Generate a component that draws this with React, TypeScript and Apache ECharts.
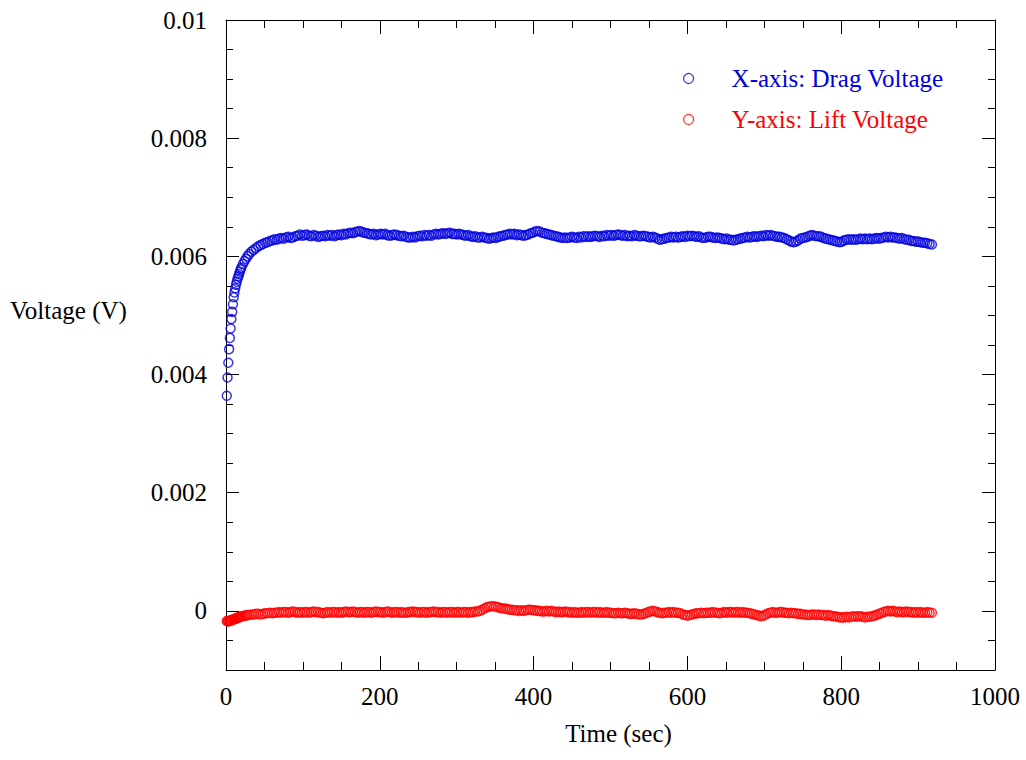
import React, { useEffect, useRef } from "react";
import * as echarts from "echarts";

// time in seconds: 1 s steps at the start, then 2 s, then 3 s
const times: number[] = [
  1, 2, 3, 4, 5, 6, 7, 8, 9, 10, 11, 12, 13, 14, 15, 16, 17, 18, 19, 20,
  22, 24, 26, 28,
  30, 33, 36, 39, 42, 45, 48, 51, 54, 57,
  60, 63, 66, 69, 72, 75, 78, 81, 84, 87,
  90, 93, 96, 99, 102, 105, 108, 111, 114, 117,
  120, 123, 126, 129, 132, 135, 138, 141, 144, 147,
  150, 153, 156, 159, 162, 165, 168, 171, 174, 177,
  180, 183, 186, 189, 192, 195, 198, 201, 204, 207,
  210, 213, 216, 219, 222, 225, 228, 231, 234, 237,
  240, 243, 246, 249, 252, 255, 258, 261, 264, 267,
  270, 273, 276, 279, 282, 285, 288, 291, 294, 297,
  300, 303, 306, 309, 312, 315, 318, 321, 324, 327,
  330, 333, 336, 339, 342, 345, 348, 351, 354, 357,
  360, 363, 366, 369, 372, 375, 378, 381, 384, 387,
  390, 393, 396, 399, 402, 405, 408, 411, 414, 417,
  420, 423, 426, 429, 432, 435, 438, 441, 444, 447,
  450, 453, 456, 459, 462, 465, 468, 471, 474, 477,
  480, 483, 486, 489, 492, 495, 498, 501, 504, 507,
  510, 513, 516, 519, 522, 525, 528, 531, 534, 537,
  540, 543, 546, 549, 552, 555, 558, 561, 564, 567,
  570, 573, 576, 579, 582, 585, 588, 591, 594, 597,
  600, 603, 606, 609, 612, 615, 618, 621, 624, 627,
  630, 633, 636, 639, 642, 645, 648, 651, 654, 657,
  660, 663, 666, 669, 672, 675, 678, 681, 684, 687,
  690, 693, 696, 699, 702, 705, 708, 711, 714, 717,
  720, 723, 726, 729, 732, 735, 738, 741, 744, 747,
  750, 753, 756, 759, 762, 765, 768, 771, 774, 777,
  780, 783, 786, 789, 792, 795, 798, 801, 804, 807,
  810, 813, 816, 819, 822, 825, 828, 831, 834, 837,
  840, 843, 846, 849, 852, 855, 858, 861, 864, 867,
  870, 873, 876, 879, 882, 885, 888, 891, 894, 897,
  900, 903, 906, 909, 912, 915, 918,
];

// X-axis: Drag Voltage, in millivolts
const dragMv: number[] = [
  3.64, 3.95, 4.20, 4.43, 4.62, 4.78, 4.94, 5.06, 5.19, 5.31, 5.39, 5.46, 5.52, 5.57, 5.62, 5.66, 5.70, 5.74, 5.78, 5.81,
  5.87, 5.92, 5.96, 6.00,
  6.04, 6.08, 6.11, 6.14, 6.17, 6.19, 6.21, 6.23, 6.24, 6.26,
  6.27, 6.29, 6.28, 6.30, 6.31, 6.30, 6.32, 6.33, 6.31, 6.32,
  6.34, 6.35, 6.37, 6.35, 6.36, 6.37, 6.35, 6.34, 6.36, 6.35,
  6.33, 6.34, 6.35, 6.34, 6.36, 6.35, 6.36, 6.34, 6.36, 6.37,
  6.36, 6.38, 6.37, 6.39, 6.40, 6.39, 6.41, 6.42, 6.43, 6.41,
  6.40, 6.39, 6.38, 6.37, 6.38, 6.36, 6.37, 6.38, 6.37, 6.38,
  6.36, 6.35, 6.36, 6.37, 6.36, 6.35, 6.34, 6.35, 6.33, 6.32,
  6.32, 6.33, 6.32, 6.34, 6.35, 6.34, 6.36, 6.35, 6.36, 6.35,
  6.37, 6.38, 6.37, 6.38, 6.39, 6.38, 6.39, 6.40, 6.38, 6.38,
  6.37, 6.38, 6.37, 6.36, 6.35, 6.36, 6.34, 6.33, 6.34, 6.32,
  6.32, 6.33, 6.32, 6.31, 6.30, 6.31, 6.32, 6.31, 6.33, 6.34,
  6.35, 6.36, 6.37, 6.38, 6.37, 6.38, 6.36, 6.37, 6.36, 6.35,
  6.36, 6.37, 6.39, 6.40, 6.42, 6.43, 6.42, 6.40, 6.39, 6.38,
  6.37, 6.36, 6.35, 6.34, 6.33, 6.32, 6.31, 6.32, 6.31, 6.32,
  6.33, 6.32, 6.31, 6.33, 6.32, 6.34, 6.33, 6.34, 6.33, 6.34,
  6.35, 6.34, 6.33, 6.35, 6.34, 6.36, 6.35, 6.36, 6.35, 6.36,
  6.37, 6.36, 6.35, 6.36, 6.34, 6.35, 6.34, 6.36, 6.35, 6.34,
  6.34, 6.35, 6.34, 6.33, 6.32, 6.33, 6.32, 6.30, 6.28, 6.29,
  6.30, 6.31, 6.32, 6.33, 6.32, 6.33, 6.32, 6.33, 6.34, 6.33,
  6.35, 6.34, 6.35, 6.34, 6.33, 6.34, 6.32, 6.31, 6.32, 6.33,
  6.33, 6.32, 6.31, 6.32, 6.31, 6.30, 6.29, 6.30, 6.28, 6.28,
  6.27, 6.28, 6.29, 6.30, 6.31, 6.32, 6.33, 6.32, 6.33, 6.34,
  6.33, 6.34, 6.35, 6.34, 6.36, 6.35, 6.36, 6.35, 6.34, 6.33,
  6.33, 6.32, 6.31, 6.29, 6.27, 6.25, 6.24, 6.25, 6.27, 6.30,
  6.31, 6.32, 6.33, 6.35, 6.36, 6.35, 6.34, 6.34, 6.33, 6.31,
  6.30, 6.29, 6.28, 6.27, 6.26, 6.25, 6.24, 6.25, 6.27, 6.28,
  6.29, 6.28, 6.29, 6.28, 6.29, 6.30, 6.29, 6.30, 6.29, 6.30,
  6.29, 6.30, 6.31, 6.30, 6.31, 6.32, 6.33, 6.32, 6.33, 6.32,
  6.32, 6.31, 6.30, 6.31, 6.29, 6.28, 6.28, 6.26, 6.26, 6.25,
  6.25, 6.24, 6.23, 6.23, 6.22, 6.21, 6.20,
];

// Y-axis: Lift Voltage, in millivolts
const liftMv: number[] = [
  -0.17, -0.17, -0.18, -0.17, -0.17, -0.16, -0.16, -0.15, -0.15, -0.14, -0.14, -0.13, -0.13, -0.12, -0.12, -0.11, -0.11, -0.10, -0.10, -0.09,
  -0.09, -0.08, -0.08, -0.07,
  -0.07, -0.06, -0.06, -0.05, -0.05, -0.06, -0.05, -0.04, -0.04, -0.03,
  -0.04, -0.03, -0.03, -0.02, -0.03, -0.02, -0.02, -0.03, -0.02, -0.01,
  -0.02, -0.03, -0.02, -0.03, -0.02, -0.02, -0.03, -0.02, -0.01, -0.02,
  -0.02, -0.03, -0.04, -0.03, -0.02, -0.03, -0.02, -0.02, -0.03, -0.02,
  -0.03, -0.02, -0.01, -0.02, -0.02, -0.01, -0.02, -0.03, -0.02, -0.02,
  -0.03, -0.02, -0.02, -0.03, -0.02, -0.01, -0.02, -0.02, -0.03, -0.02,
  -0.01, -0.02, -0.03, -0.02, -0.02, -0.03, -0.02, -0.03, -0.03, -0.02,
  -0.02, -0.01, -0.02, -0.02, -0.03, -0.02, -0.02, -0.03, -0.02, -0.02,
  -0.01, -0.02, -0.02, -0.03, -0.02, -0.02, -0.03, -0.02, -0.02, -0.03,
  -0.02, -0.02, -0.03, -0.02, -0.02, -0.03, -0.02, -0.02, -0.01, -0.01,
  0.00, 0.02, 0.04, 0.06, 0.07, 0.08, 0.08, 0.07, 0.06, 0.05,
  0.04, 0.04, 0.03, 0.02, 0.02, 0.01, 0.01, 0.00, 0.01, 0.00,
  0.01, 0.02, 0.02, 0.01, 0.01, 0.00, 0.00, -0.01, -0.01, 0.00,
  -0.01, 0.00, -0.01, -0.02, -0.01, -0.02, -0.02, -0.01, -0.02, -0.02,
  -0.03, -0.02, -0.03, -0.03, -0.02, -0.03, -0.02, -0.02, -0.03, -0.02,
  -0.02, -0.03, -0.02, -0.03, -0.03, -0.02, -0.03, -0.03, -0.04, -0.04,
  -0.03, -0.04, -0.04, -0.03, -0.04, -0.05, -0.05, -0.04, -0.05, -0.06,
  -0.06, -0.05, -0.04, -0.02, -0.01, 0.00, -0.01, -0.02, -0.03, -0.04,
  -0.03, -0.03, -0.02, -0.03, -0.02, -0.03, -0.03, -0.04, -0.06, -0.07,
  -0.08, -0.07, -0.06, -0.05, -0.04, -0.04, -0.03, -0.04, -0.03, -0.03,
  -0.03, -0.02, -0.03, -0.03, -0.04, -0.03, -0.02, -0.03, -0.02, -0.02,
  -0.03, -0.02, -0.02, -0.03, -0.02, -0.03, -0.03, -0.04, -0.05, -0.06,
  -0.07, -0.08, -0.09, -0.08, -0.06, -0.04, -0.03, -0.02, -0.03, -0.03,
  -0.02, -0.02, -0.03, -0.03, -0.04, -0.03, -0.04, -0.04, -0.05, -0.05,
  -0.06, -0.06, -0.07, -0.07, -0.06, -0.06, -0.07, -0.06, -0.07, -0.07,
  -0.08, -0.07, -0.08, -0.09, -0.09, -0.10, -0.11, -0.11, -0.11, -0.10,
  -0.11, -0.10, -0.09, -0.10, -0.09, -0.09, -0.10, -0.11, -0.10, -0.10,
  -0.09, -0.08, -0.07, -0.05, -0.04, -0.02, -0.01, 0.00, -0.01, 0.00,
  -0.01, -0.02, -0.01, -0.02, -0.02, -0.01, -0.02, -0.02, -0.03, -0.02,
  -0.03, -0.02, -0.03, -0.03, -0.02, -0.03, -0.03,
];

const yLabelValues: number[] = [0, 0.002, 0.004, 0.006, 0.008, 0.01];
const seriesNames: string[] = ["X-axis: Drag Voltage", "Y-axis: Lift Voltage"];

const BLUE = "#0000dd";
const RED = "#ff0000";
const FONT = "'Liberation Serif', 'Times New Roman', serif";
const FS = 25;

export default function App() {
  const ref = useRef<HTMLDivElement>(null);

  useEffect(() => {
    if (!ref.current) return;
    const chart = echarts.init(ref.current, null, { renderer: "svg" });

    const dragData = times.map((t, i) => [t, dragMv[i] / 1000]);
    const liftData = times.map((t, i) => [t, liftMv[i] / 1000]);

    const yBase = { type: "value", min: -0.001, max: 0.01, splitLine: { show: false } };
    const majorY = (position: string, labels: boolean) => ({
      ...yBase,
      position,
      axisLine: { show: true, onZero: false, lineStyle: { color: "#000", width: 1 } },
      axisTick: { show: true, inside: true, length: 13, customValues: yLabelValues, lineStyle: { color: "#000" } },
      axisLabel: {
        show: labels,
        customValues: yLabelValues,
        margin: 19,
        color: "#000",
        fontFamily: FONT,
        fontSize: FS,
        formatter: (v: number) => String(parseFloat(v.toFixed(4))),
      },
    });
    const minorY = (position: string) => ({
      ...yBase,
      position,
      interval: 0.0005,
      axisLine: { show: false, onZero: false },
      axisTick: { show: true, inside: true, length: 7, lineStyle: { color: "#000" } },
      axisLabel: { show: false },
    });
    const xAx = (position: string, labels: boolean) => ({
      type: "value",
      position,
      min: 0,
      max: 1000,
      interval: 200,
      splitLine: { show: false },
      axisLine: { show: true, onZero: false, lineStyle: { color: "#000", width: 1 } },
      axisTick: { show: true, inside: true, length: 14, lineStyle: { color: "#000" } },
      minorTick: { show: true, splitNumber: 4, length: 8, lineStyle: { color: "#000" } },
      minorSplitLine: { show: false },
      axisLabel: {
        show: labels,
        margin: 14,
        color: "#000",
        fontFamily: FONT,
        fontSize: FS,
        formatter: (v: number) => String(v),
      },
      ...(labels
        ? {
            name: "Time (sec)",
            nameLocation: "middle",
            nameGap: 51,
            nameTextStyle: { color: "#000", fontFamily: FONT, fontSize: FS, padding: [0, 0, 0, 16] },
          }
        : {}),
    });

    chart.setOption({
      animation: false,
      backgroundColor: "#fff",
      grid: { left: 226, right: 31, top: 20, bottom: 90, outerBoundsMode: "none" },
      xAxis: [xAx("bottom", true), xAx("top", false)],
      yAxis: [majorY("left", true), minorY("left"), majorY("right", false), minorY("right")],
      legend: {
        orient: "vertical",
        left: 678,
        top: 61,
        itemWidth: 10,
        itemHeight: 10,
        itemGap: 16,
        selectedMode: false,
        icon: "circle",
        textStyle: { fontFamily: FONT, fontSize: FS, lineHeight: 25, padding: [0, 0, 0, 33] },
        data: [
          {
            name: seriesNames[0],
            textStyle: { color: BLUE },
            itemStyle: { color: "transparent", borderColor: BLUE, borderWidth: 1.2 },
          },
          {
            name: seriesNames[1],
            textStyle: { color: RED },
            itemStyle: { color: "transparent", borderColor: RED, borderWidth: 1.2 },
          },
        ],
      },
      graphic: [
        {
          type: "text",
          left: 10,
          top: 298,
          style: { text: "Voltage (V)", fill: "#000", font: `${FS}px ${FONT}` },
        },
      ],
      series: [
        {
          name: seriesNames[0],
          type: "scatter",
          xAxisIndex: 0,
          yAxisIndex: 0,
          symbol: "circle",
          symbolSize: 9,
          itemStyle: { color: "transparent", borderColor: BLUE, borderWidth: 1.5 },
          data: dragData,
        },
        {
          name: seriesNames[1],
          type: "scatter",
          xAxisIndex: 0,
          yAxisIndex: 0,
          symbol: "circle",
          symbolSize: 9,
          itemStyle: { color: "transparent", borderColor: RED, borderWidth: 1.5 },
          data: liftData,
        },
      ],
    });

    return () => chart.dispose();
  }, []);

  return (
    <div
      ref={ref}
      style={{ position: "absolute", left: 0, top: 0, width: 1026, height: 760 }}
    />
  );
}
